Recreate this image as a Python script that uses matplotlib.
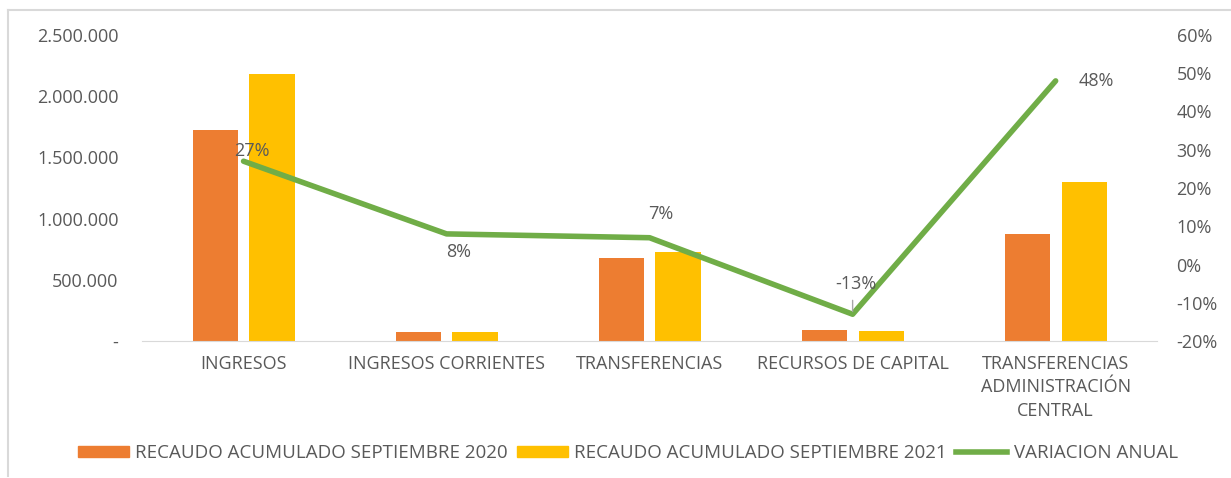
import numpy as np
import matplotlib.pyplot as plt
from matplotlib.lines import Line2D
from matplotlib.ticker import FuncFormatter

categorias = ['INGRESOS', 'INGRESOS CORRIENTES', 'TRANSFERENCIAS',
              'RECURSOS DE CAPITAL', 'TRANSFERENCIAS\nADMINISTRACIÓN\nCENTRAL']
recaudo_2020 = [1720000, 70000, 680000, 92000, 878000]
recaudo_2021 = [2185000, 75600, 727000, 80000, 1300000]
variacion = [0.27, 0.08, 0.07, -0.13, 0.48]

etiqueta_2020 = 'RECAUDO ACUMULADO SEPTIEMBRE 2020'
etiqueta_2021 = 'RECAUDO ACUMULADO SEPTIEMBRE 2021'
etiqueta_var = 'VARIACION ANUAL'

naranja = '#ED7D31'
amarillo = '#FFC000'
verde = '#70AD47'
gris = '#595959'

plt.rcParams['font.family'] = ['Open Sans', 'DejaVu Sans']
fs = 13

fig = plt.figure(figsize=(12.31, 4.78), dpi=100)
ax = fig.add_axes([0.1154, 0.2866, 0.8246, 0.6402])
ax2 = ax.twinx()

x = np.arange(len(categorias))
ancho = 0.222
ax.bar(x - 0.14, recaudo_2020, ancho, color=naranja, label=etiqueta_2020, zorder=2)
ax.bar(x + 0.14, recaudo_2021, ancho, color=amarillo, label=etiqueta_2021, zorder=2)

ax.set_xlim(-0.5, len(categorias) - 0.5)
ax.set_ylim(0, 2500000)
ax.set_yticks(np.arange(0, 2500001, 500000))

def miles(v, pos):
    if v == 0:
        return '-'
    return '{:,.0f}'.format(v).replace(',', '.')

ax.yaxis.set_major_formatter(FuncFormatter(miles))
ax.set_xticks(x)
ax.set_xticklabels(categorias, fontsize=fs, color=gris, linespacing=1.4)
ax.tick_params(axis='both', length=0, labelsize=fs, labelcolor=gris)
ax.tick_params(axis='x', pad=10)
ax.tick_params(axis='y', pad=17)

for s in ['top', 'right', 'left']:
    ax.spines[s].set_visible(False)
    ax2.spines[s].set_visible(False)
ax.spines['bottom'].set_color('#D9D9D9')
ax2.spines['bottom'].set_visible(False)

# linea de variacion en el eje derecho
ax2.plot(x, variacion, color=verde, lw=4, solid_capstyle='round',
         label=etiqueta_var, zorder=3)
ax2.set_ylim(-0.2, 0.6)
ax2.set_yticks(np.arange(-0.2, 0.61, 0.1))
ax2.yaxis.set_major_formatter(FuncFormatter(lambda v, p: '{:.0f}%'.format(round(v * 100))))
ax2.tick_params(axis='y', length=0, labelsize=fs, labelcolor=gris, pad=14)

desplazamientos = [(6, 7), (9, -13), (8, 17), (2, 22), (29, 0)]
for xi, v, (dx, dy) in zip(x, variacion, desplazamientos):
    ax2.annotate('{:.0f}%'.format(v * 100), (xi, v), xytext=(dx, dy),
                 textcoords='offset points', ha='center', va='center',
                 fontsize=fs, color=gris, zorder=4)
# guia de la etiqueta -13%
ax2.annotate('', (x[3], variacion[3]), xytext=(0, 12), textcoords='offset points',
             arrowprops=dict(arrowstyle='-', color='#A6A6A6', lw=1))

handles = [plt.Rectangle((0, 0), 1, 1, color=naranja),
           plt.Rectangle((0, 0), 1, 1, color=amarillo),
           Line2D([], [], color=verde, lw=4)]
fig.legend(handles, [etiqueta_2020, etiqueta_2021, etiqueta_var],
           loc='center', bbox_to_anchor=(0.51, 0.052), ncol=3, frameon=False,
           fontsize=13.5, labelcolor=gris, handlelength=2.7, handleheight=0.6,
           handletextpad=0.35, columnspacing=0.5)

# marco exterior
fig.add_artist(Line2D([8 / 1231, 8 / 1231], [0.005, 1 - 10 / 478],
                      transform=fig.transFigure, color='#D9D9D9', lw=1.5))
fig.add_artist(Line2D([8 / 1231, 1.0], [1 - 10 / 478, 1 - 10 / 478],
                      transform=fig.transFigure, color='#D9D9D9', lw=1.5))

fig.savefig('out.png', dpi=100)
